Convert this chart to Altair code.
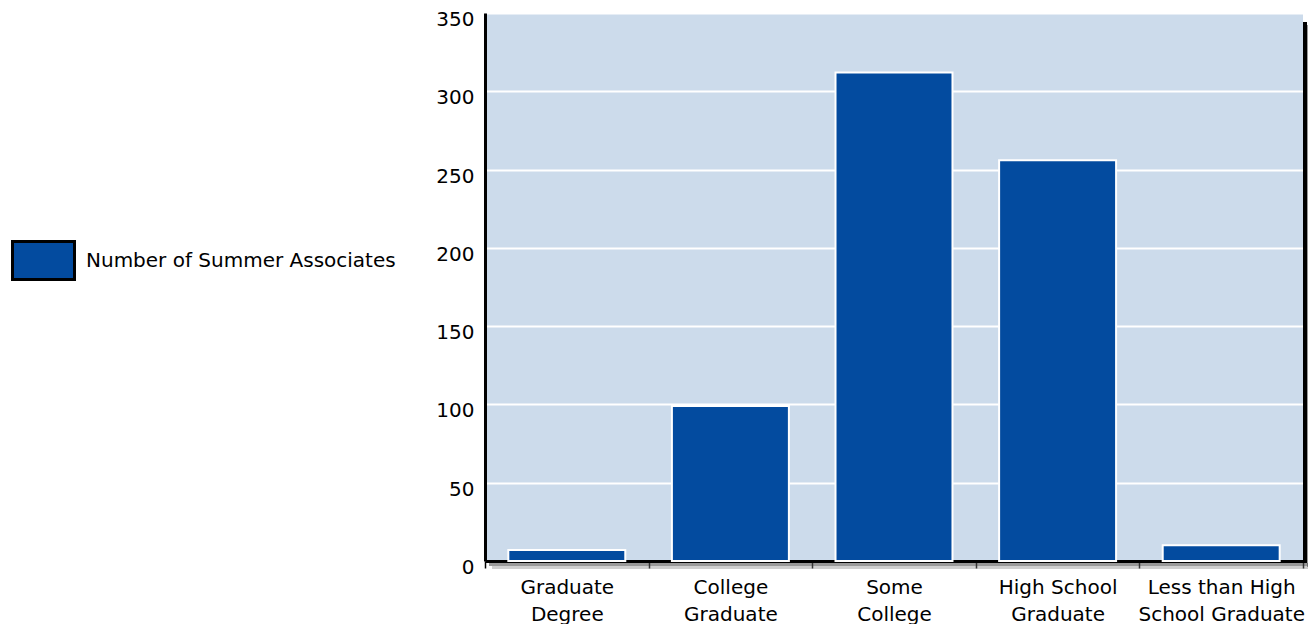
import altair as alt
import pandas as pd

categories = ["Graduate\nDegree", "College\nGraduate", "Some\nCollege",
              "High School\nGraduate", "Less than High\nSchool Graduate"]
values = [7, 99, 312, 256, 10]
series_name = "Number of Summer Associates"

df = pd.DataFrame({"category": categories, "value": values,
                   "series": [series_name] * len(categories)})

W, H = 818, 548
FONT = "DejaVu Sans"
BLUE = "#034B9F"
BG = "#CCDBEB"

bars = alt.Chart(df).mark_bar(
    width=alt.RelativeBandSize(0.715), stroke="white", strokeWidth=2
).encode(
    x=alt.X("category:N", sort=categories, title=None,
            scale=alt.Scale(paddingInner=0, paddingOuter=0),
            axis=alt.Axis(labelAngle=0, labelFontSize=20, labelFont=FONT,
                          labelColor="black", labelExpr="split(datum.label, '\\n')",
                          labelLineHeight=27, labelPadding=9, tickBand="extent",
                          tickSize=7, tickColor="black", tickWidth=1.5,
                          domainColor="black", domainWidth=3, grid=False)),
    y=alt.Y("value:Q", title=None,
            scale=alt.Scale(domain=[0, 350], nice=False),
            axis=alt.Axis(values=[0, 50, 100, 150, 200, 250, 300, 350],
                          labelFontSize=20, labelFont=FONT, labelColor="black",
                          labelPadding=11, labelOffset=6.5, ticks=False,
                          domainColor="black", domainWidth=3,
                          grid=True, gridColor="white", gridWidth=2)),
    color=alt.Color("series:N", scale=alt.Scale(range=[BLUE]),
                    legend=alt.Legend(title=None, orient="none",
                                      legendX=-474, legendY=215,
                                      symbolType="M-1,-0.613H1V0.613H-1Z",
                                      symbolSize=3844, symbolStrokeColor="black",
                                      symbolStrokeWidth=3, symbolOpacity=1,
                                      labelFontSize=20, labelFont=FONT,
                                      labelColor="black", labelOffset=10,
                                      labelLimit=0, padding=0)),
)

one = pd.DataFrame({"a": [0]})
right_edge = alt.Chart(one).mark_rule(color="black", strokeWidth=4).encode(
    x=alt.value(W + 2), y=alt.value(9), y2=alt.value(H + 2))
right_shadow1 = alt.Chart(one).mark_rule(color="#555555", strokeWidth=3, opacity=0.6).encode(
    x=alt.value(W + 5.5), y=alt.value(12), y2=alt.value(H + 6))
bottom_shadow1 = alt.Chart(one).mark_rule(color="#555555", strokeWidth=3, opacity=0.6).encode(
    y=alt.value(H + 3.5), x=alt.value(4), x2=alt.value(W + 7))
bottom_shadow2 = alt.Chart(one).mark_rule(color="#888888", strokeWidth=3, opacity=0.4).encode(
    y=alt.value(H + 6.5), x=alt.value(7), x2=alt.value(W + 10))

chart = alt.layer(bottom_shadow2, bottom_shadow1, right_shadow1,
                  right_edge, bars).properties(
    width=W, height=H,
    padding={"left": 477, "top": 5, "right": 5, "bottom": 63},
    autosize=alt.AutoSizeParams(type="none"),
).configure_view(fill=BG, strokeWidth=0)

chart.save("out.html", embed_options={"renderer": "svg", "actions": False})
